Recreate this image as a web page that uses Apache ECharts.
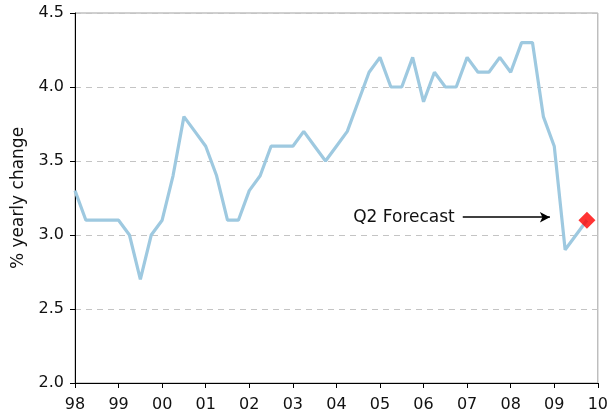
<!DOCTYPE html>
<html>
<head>
<meta charset="utf-8">
<title>yearly change</title>
<script src="https://cdn.jsdelivr.net/npm/echarts@6/dist/echarts.min.js"></script>
<style>
  html, body { margin: 0; padding: 0; background: #fff; }
  #main { width: 611px; height: 417px; }
</style>
</head>
<body>
<div id="main"></div>
<script type="text/javascript">
// quarterly values, 1998 Q1 onward
var values = [
  3.3, 3.1, 3.1, 3.1, 3.1, 3.0, 2.7, 3.0,
  3.1, 3.4, 3.8, 3.7, 3.6, 3.4, 3.1, 3.1,
  3.3, 3.4, 3.6, 3.6, 3.6, 3.7, 3.6, 3.5,
  3.6, 3.7, 3.9, 4.1, 4.2, 4.0, 4.0, 4.2,
  3.9, 4.1, 4.0, 4.0, 4.2, 4.1, 4.1, 4.2,
  4.1, 4.3, 4.3, 3.8, 3.6, 2.9, 3.0, 3.1
];
var yearLabels = ['98','99','00','01','02','03','04','05','06','07','08','09','10'];
var forecastLabel = 'Q2 Forecast';
var arrowStart = [35.6, 3.12];
var arrowEnd = [43.6, 3.12];

var lineData = [];
for (var i = 0; i < values.length; i++) {
  lineData.push([i, values[i]]);
}
var last = lineData[lineData.length - 1];

var chart = echarts.init(document.getElementById('main'));
var font = 'DejaVu Sans';

chart.setOption({
  animation: false,
  grid: {
    left: 75, right: 10, top: 13, bottom: 34,
    show: true, borderColor: '#a0a0a0', borderWidth: 1
  },
  xAxis: {
    type: 'value',
    min: 0, max: 48, interval: 4,
    axisLine: { lineStyle: { color: '#000', width: 1 } },
    axisTick: { show: true, length: 5, lineStyle: { color: '#000' } },
    axisLabel: {
      color: '#111', fontFamily: font, fontSize: 16, margin: 14,
      formatter: function (v) { return yearLabels[v / 4]; }
    },
    splitLine: { show: false }
  },
  yAxis: {
    type: 'value',
    min: 2, max: 4.5, interval: 0.5,
    name: '% yearly change',
    nameLocation: 'middle',
    nameGap: 48,
    nameTextStyle: { color: '#111', fontFamily: font, fontSize: 17 },
    axisLine: { show: true, lineStyle: { color: '#000', width: 1 } },
    axisTick: { show: true, length: 5, lineStyle: { color: '#000' } },
    axisLabel: {
      color: '#111', fontFamily: font, fontSize: 16, margin: 11,
      formatter: function (v) { return v.toFixed(1); }
    },
    splitLine: { show: true, lineStyle: { color: '#c4c4c4', type: [6, 5], width: 1 } }
  },
  series: [
    {
      type: 'line',
      data: lineData,
      symbol: 'none',
      lineStyle: { color: '#9ec9e0', width: 3.2 },
      markLine: {
        silent: true,
        symbol: ['none', 'arrow'],
        symbolSize: [8, 10],
        lineStyle: { color: '#000', width: 1.5, type: 'solid' },
        label: {
          show: true, position: 'start', distance: 8,
          formatter: forecastLabel,
          color: '#111', fontFamily: font, fontSize: 17
        },
        data: [[{ coord: arrowStart }, { coord: arrowEnd }]]
      }
    },
    {
      type: 'scatter',
      data: [last],
      symbol: 'diamond',
      symbolSize: [17, 17],
      itemStyle: { color: '#ff0000' },
      z: 5
    }
  ]
});
</script>
</body>
</html>
